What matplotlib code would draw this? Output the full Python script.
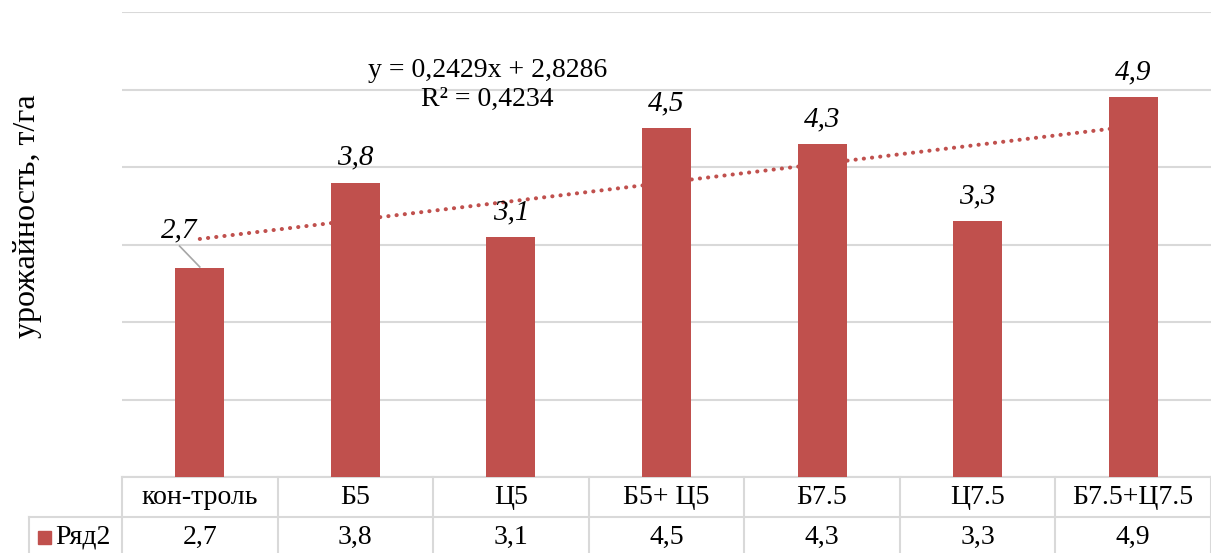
import numpy as np
import matplotlib
matplotlib.use("Agg")
import matplotlib.pyplot as plt
from matplotlib.transforms import blended_transform_factory
from matplotlib.patches import Rectangle
from matplotlib.lines import Line2D

categories = ["кон-троль", "Б5", "Ц5", "Б5+ Ц5", "Б7.5", "Ц7.5", "Б7.5+Ц7.5"]
values = [2.7, 3.8, 3.1, 4.5, 4.3, 3.3, 4.9]
value_labels = ["2,7", "3,8", "3,1", "4,5", "4,3", "3,3", "4,9"]
series_name = "Ряд2"
y_title = "урожайность, т/га"

bar_color = "#C0504D"
grid_color = "#D9D9D9"
font = "Liberation Serif"

plt.rcParams["font.family"] = [font, "DejaVu Serif"]

fig = plt.figure(figsize=(12.11, 5.53), dpi=100)
ax = fig.add_axes([122 / 1211, 76 / 553, 1 - 122 / 1211, (477 - 12) / 553])

x = np.arange(1, len(values) + 1)
ax.bar(x, values, width=0.315, color=bar_color, zorder=3)

ax.set_xlim(0.5, len(values) + 0.5)
ax.set_ylim(0, 6)
ax.set_yticks(np.arange(0, 7, 1))
ax.yaxis.grid(True, color=grid_color, linewidth=1.5)
ax.set_axisbelow(True)
ax.tick_params(left=False, bottom=False, labelleft=False, labelbottom=False)
for s in ax.spines.values():
    s.set_visible(False)

# linear trend
slope, intercept = np.polyfit(x, values, 1)
fit = slope * x + intercept
r2 = 1 - np.sum((np.array(values) - fit) ** 2) / np.sum((np.array(values) - np.mean(values)) ** 2)
ax.plot([x[0], x[-1]], [fit[0], fit[-1]], color=bar_color, linewidth=2.9,
        linestyle=(0, (0.05, 2.0)), dash_capstyle="round", zorder=4)
eq = f"y = {slope:.4f}x + {intercept:.4f}".replace(".", ",")
rr = f"R² = {r2:.4f}".replace(".", ",")
ax.text(2.85, 5.06, eq + "\n" + rr, ha="center", va="center", fontsize=20,
        linespacing=1.2, zorder=5)

# data labels
for xi, v, lab in zip(x, values, value_labels):
    if xi == 1:
        ax.text(xi - 0.13, v + 0.48, lab, ha="center", va="center", fontsize=21,
                style="italic", zorder=5)
        ax.plot([xi - 0.13, xi], [v + 0.28, v + 0.01], color="#A6A6A6", linewidth=1.2, zorder=5)
    else:
        ax.text(xi, v + 0.32, lab, ha="center", va="center", fontsize=21,
                style="italic", zorder=5)

ax.set_ylabel(y_title, fontsize=23, labelpad=0)
ax.yaxis.set_label_coords((42 - 122) / 1089, 0.56)

# data table under the plot
tr = blended_transform_factory(ax.transData, ax.transAxes)
ah = 465.0
r1 = -40 / ah
r2b = -80 / ah
x_left_hdr = 0.5 - (122 - 29) / (1089 / 7)
lw = 1.5
for xi in np.arange(0.5, len(values) + 1, 1):
    ax.add_line(Line2D([xi, xi], [0, r2b], transform=tr, color=grid_color, lw=lw, clip_on=False))
ax.add_line(Line2D([x_left_hdr, x_left_hdr], [r1, r2b], transform=tr, color=grid_color, lw=lw, clip_on=False))
ax.add_line(Line2D([0.5, len(values) + 0.5], [0, 0], transform=tr, color=grid_color, lw=lw, clip_on=False))
ax.add_line(Line2D([x_left_hdr, len(values) + 0.5], [r1, r1], transform=tr, color=grid_color, lw=lw, clip_on=False))

for xi, c, lab in zip(x, categories, value_labels):
    ax.text(xi, -20 / ah, c, transform=tr, ha="center", va="center", fontsize=20, clip_on=False)
    ax.text(xi, -60 / ah, lab, transform=tr, ha="center", va="center", fontsize=20, clip_on=False)

fig.patches.append(Rectangle((38 / 1211, (553 - 544) / 553), 13 / 1211, 13 / 553,
                             transform=fig.transFigure, color=bar_color))
fig.text(55 / 1211, (553 - 537) / 553, series_name, ha="left", va="center", fontsize=20)

fig.savefig("out.png", dpi=100)
